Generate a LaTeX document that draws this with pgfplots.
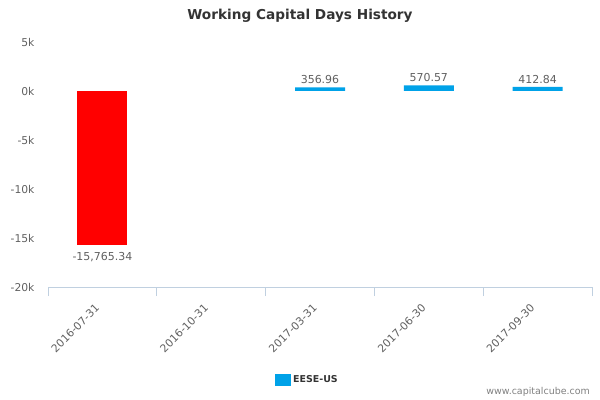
\documentclass[border=0pt]{standalone}
\usepackage{fontspec}
\setmainfont{DejaVu Sans}
\usepackage{pgfplots}
\pgfplotsset{compat=1.18}
\definecolor{barblue}{RGB}{0,162,232}
\definecolor{barred}{RGB}{255,0,0}
\definecolor{axiscol}{RGB}{192,208,224}
\definecolor{txtgrey}{RGB}{96,96,96}
\definecolor{titlecol}{RGB}{51,51,51}
\begin{document}
\begin{tikzpicture}
\useasboundingbox (0,0) rectangle (600bp,400bp);
\node[font=\fontsize{13.7}{15}\selectfont\bfseries, text=titlecol] at (300bp,384bp) {Working Capital Days History};
\node[font=\fontsize{9.5}{11}\selectfont, text=txtgrey!80, anchor=east, inner sep=0pt] at (590bp,8bp) {www.capitalcube.com};
\begin{axis}[
    at={(48bp,113bp)}, anchor=south west,
    scale only axis,
    width=544bp, height=245bp,
    xmin=-0.5, xmax=4.5,
    ymin=-20000, ymax=5000,
    scaled y ticks=false,
    axis lines=left,
    y axis line style={draw=none},
    x axis line style={draw=axiscol, line width=0.8pt, -},
    xtick={0,1,2,3,4},
    xticklabels={2016-07-31,2016-10-31,2017-03-31,2017-06-30,2017-09-30},
    minor xtick={-0.5,0.5,1.5,2.5,3.5,4.5},
    tick align=outside,
    major tick length=0pt,
    minor tick length=9bp,
    minor tick style={draw=axiscol, line width=0.8pt},
    ytick={-20000,-15000,-10000,-5000,0,5000},
    yticklabels={-20k,-15k,-10k,-5k,0k,5k},
    ticklabel style={font=\fontsize{10.8}{12}\selectfont, text=txtgrey},
    yticklabel style={anchor=east, xshift=-10bp},
    xticklabel style={rotate=45, anchor=east, inner sep=0pt, xshift=-17bp, yshift=-10bp},
    ybar, bar width=50bp, bar shift=0pt,
    nodes near coords,
    point meta=explicit symbolic,
    every node near coord/.append style={font=\fontsize{11}{12}\selectfont, text=txtgrey},
    legend style={at={(0.477,-0.38)}, anchor=center, draw=none, fill=none,
        font=\fontsize{9.5}{11}\selectfont\bfseries, text=titlecol},
    legend image code/.code={\fill[barblue] (-3bp,-6bp) rectangle (13bp,6bp);},
]
\addplot[fill=barred, draw=none, forget plot,
    every node near coord/.append style={anchor=north, yshift=-3bp}] coordinates {
    (0,-15765.34) [-15,765.34]
};
\addplot[fill=barblue, draw=none] coordinates {
    (2,356.96) [356.96]
    (3,570.57) [570.57]
    (4,412.84) [412.84]
};
\addlegendentry{EESE-US}
\end{axis}
\end{tikzpicture}
\end{document}
